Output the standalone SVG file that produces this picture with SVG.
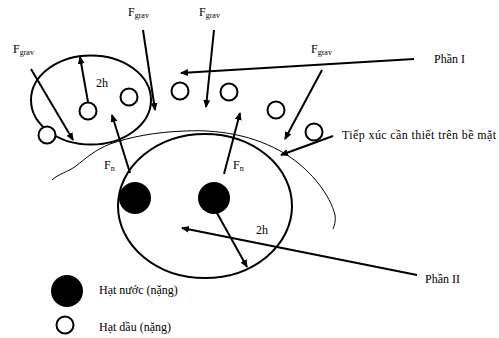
<svg xmlns="http://www.w3.org/2000/svg" width="499" height="338" viewBox="0 0 499 338">
<style>
.t{font-family:"Liberation Serif","Times New Roman",serif;font-size:12px;fill:#000}
.s{font-size:8px}
.ln{stroke:#000;stroke-width:2;fill:none}
.el{stroke:#000;stroke-width:2;fill:none}
.oc{stroke:#000;stroke-width:2;fill:#fff}
.wc{fill:#000}
</style>
<defs>
<marker id="ah" markerWidth="8" markerHeight="8" refX="7" refY="4" orient="auto" markerUnits="userSpaceOnUse">
<path d="M0,0.5 L8,4 L0,7.5 Z" fill="#000"/>
</marker>
</defs>
<rect width="499" height="338" fill="#fff"/>
<g id="surface">
<path d="M52,180 C58,174 68,172 76,166 C86,158 95,150 110,144 C130,137 155,132 185,131 C225,129 262,138 290,157 C312,172 330,195 335,215 C336,222 334,226 333,229" fill="none" stroke="#000" stroke-width="1"/>
</g>
<g id="region1">
<ellipse cx="91" cy="100" rx="60" ry="44.5" class="el"/>
</g>
<g id="region2">
<ellipse cx="205" cy="206" rx="87" ry="72" class="el"/>
</g>
<g id="oil-particles">
<circle cx="88" cy="111" r="8.5" class="oc"/>
<circle cx="129" cy="97" r="8.5" class="oc"/>
<circle cx="180" cy="91" r="8.5" class="oc"/>
<circle cx="229" cy="92" r="8.5" class="oc"/>
<circle cx="47" cy="135" r="8.5" class="oc"/>
<circle cx="276" cy="110" r="8.5" class="oc"/>
<circle cx="314" cy="132" r="8.5" class="oc"/>
</g>
<g id="water-particles">
<circle cx="135" cy="198" r="16" class="wc"/>
<circle cx="214" cy="198" r="16" class="wc"/>
</g>
<g id="connectors">
<line x1="31" y1="69" x2="73" y2="140" class="ln" marker-end="url(#ah)"/>
<line x1="88" y1="102" x2="80" y2="57" class="ln" marker-end="url(#ah)"/>
<line x1="143" y1="30" x2="155" y2="110" class="ln" marker-end="url(#ah)"/>
<line x1="214" y1="30" x2="206" y2="107" class="ln" marker-end="url(#ah)"/>
<line x1="414" y1="59" x2="181" y2="73" class="ln" marker-end="url(#ah)"/>
<line x1="322" y1="70" x2="285" y2="139" class="ln" marker-end="url(#ah)"/>
<line x1="333" y1="136" x2="281" y2="155" class="ln" marker-end="url(#ah)"/>
<line x1="130" y1="173" x2="112" y2="115" class="ln" marker-end="url(#ah)"/>
<line x1="224" y1="174" x2="240" y2="113" class="ln" marker-end="url(#ah)"/>
<line x1="217" y1="213" x2="247" y2="267" class="ln" marker-end="url(#ah)"/>
<line x1="417" y1="275" x2="182" y2="228" class="ln" marker-end="url(#ah)"/>
</g>
<g id="labels">
<text class="t" x="13" y="53">F<tspan class="s" dy="2">grav</tspan></text>
<text class="t" x="128" y="16">F<tspan class="s" dy="2">grav</tspan></text>
<text class="t" x="199" y="16">F<tspan class="s" dy="2">grav</tspan></text>
<text class="t" x="311" y="53">F<tspan class="s" dy="2">grav</tspan></text>
<text class="t" x="96" y="87">2h</text>
<text class="t" x="104" y="169">F<tspan class="s" dy="2">n</tspan></text>
<text class="t" x="233" y="169">F<tspan class="s" dy="2">n</tspan></text>
<text class="t" x="256" y="234">2h</text>
<text class="t" x="434" y="63">Phần I</text>
<text class="t" x="342" y="139" textLength="154" lengthAdjust="spacing">Tiếp xúc cần thiết trên bề mặt</text>
<text class="t" x="425" y="283">Phần II</text>
</g>
<g id="legend">
<circle cx="67" cy="291" r="16" class="wc"/>
<circle cx="65" cy="325" r="8.5" class="oc"/>
<text class="t" x="99" y="294">Hạt nước (nặng)</text>
<text class="t" x="99" y="331">Hạt dầu (nặng)</text>
</g>
</svg>
